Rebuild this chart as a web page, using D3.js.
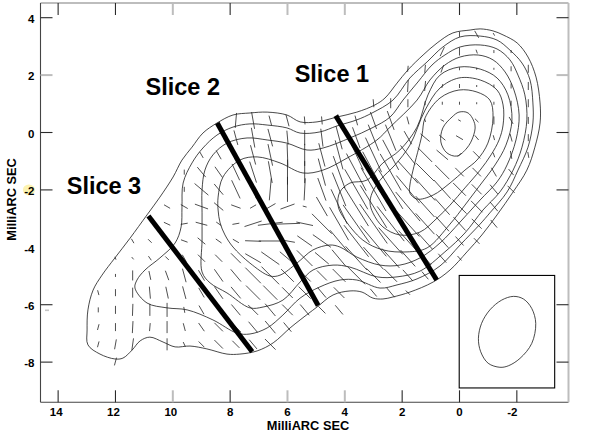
<!DOCTYPE html>
<html>
<head>
<meta charset="utf-8">
<script src="https://cdn.jsdelivr.net/npm/d3@7/dist/d3.min.js"></script>
<style>
html,body{margin:0;padding:0;background:#fff;}
svg{display:block;}
text{font-family:"Liberation Sans",Arial,Helvetica,sans-serif;font-weight:bold;fill:#000;}
</style>
</head>
<body>
<svg id="chart" width="601" height="431"></svg>
<script>
// ---- Axes (milliarcseconds) ----
const xDomain = [14.615, -3.802];
const yDomain = [4.512, -9.4];
const xTicks = [14, 12, 10, 8, 6, 4, 2, 0, -2];
const yTicks = [4, 2, 0, -2, -4, -6, -8];
const xGreyTicks = [10, 6, 4];
const yGreyTicks = [2];
const yHiddenTicks = [-4];
const xTitle = "MilliARC SEC";
const yTitle = "MilliARC SEC";

// ---- Contours: [RA offset, Dec offset] ----
const contour1 = [[12.02,-7.89],[11.74,-7.86],[11.42,-7.58],[11.14,-7.26],[10.80,-7.13],[10.34,-7.30],[9.92,-7.47],[9.40,-7.44],[8.81,-7.54],[8.11,-7.72],[7.66,-7.72],[7.06,-7.61],[6.50,-7.33],[5.91,-6.81],[5.56,-6.53],[4.97,-6.08],[4.41,-5.66],[3.82,-5.52],[3.40,-5.56],[3.02,-5.77],[2.67,-5.80],[2.32,-5.73],[1.73,-5.56],[0.92,-5.21],[0.33,-4.79],[-0.26,-4.16],[-0.78,-3.57],[-1.31,-2.87],[-1.87,-2.07],[-2.35,-1.31],[-2.63,-0.51],[-2.81,0.33],[-2.81,1.03],[-2.67,1.93],[-2.39,2.63],[-2.01,3.12],[-1.52,3.40],[-1.17,3.54],[-0.72,3.61],[-0.37,3.57],[0.23,3.47],[0.78,3.12],[1.27,2.70],[1.80,2.18],[2.18,1.72],[2.60,1.20],[2.95,0.96],[3.58,0.71],[4.27,0.54],[4.97,0.37],[5.56,0.37],[6.02,0.61],[6.71,0.71],[7.31,0.68],[7.90,0.61],[8.46,0.33],[8.95,-0.02],[9.33,-0.51],[9.68,-0.96],[9.99,-1.55],[10.45,-2.25],[10.90,-2.87],[11.49,-3.68],[12.02,-4.37],[12.47,-4.97],[12.78,-5.49],[12.96,-6.18],[12.99,-6.88],[12.96,-7.40],[12.54,-7.72]];
const contour2 = [[11.32,-5.42],[11.25,-5.14],[10.97,-4.79],[10.45,-4.37],[9.92,-3.85],[9.71,-3.29],[9.68,-2.60],[9.64,-1.76],[9.33,-1.06],[8.95,-0.54],[8.46,-0.09],[7.90,0.19],[7.31,0.30],[6.71,0.26],[6.02,0.16],[5.56,-0.02],[4.87,0.02],[4.27,0.23],[3.58,0.44],[3.05,0.68],[2.32,1.13],[1.73,1.90],[1.13,2.46],[0.58,2.98],[-0.02,3.33],[-0.72,3.36],[-1.31,3.22],[-1.76,2.87],[-2.18,2.42],[-2.46,1.83],[-2.56,1.03],[-2.56,0.33],[-2.39,-0.51],[-2.04,-1.31],[-1.66,-2.07],[-1.06,-2.80],[-0.72,-3.19],[-0.02,-3.92],[0.68,-4.65],[1.48,-5.10],[2.18,-5.31],[2.77,-5.42],[3.58,-5.14],[4.17,-5.14],[4.87,-5.38],[5.56,-5.77],[6.16,-6.36],[6.71,-6.81],[7.31,-7.02],[7.76,-6.99],[8.60,-6.53],[9.50,-6.18],[10.20,-6.11],[10.90,-5.94]];
const contour3 = [[8.98,-4.86],[8.98,-3.75],[8.98,-2.80],[8.98,-2.00],[8.88,-1.31],[8.60,-0.78],[8.11,-0.37],[7.41,-0.19],[6.71,-0.26],[6.02,-0.37],[5.32,-0.61],[4.76,-0.54],[3.82,-0.19],[3.05,0.16],[2.42,0.54],[1.97,1.13],[1.45,1.76],[0.96,2.35],[0.51,2.70],[-0.02,2.98],[-0.72,3.05],[-1.31,2.91],[-1.76,2.53],[-2.04,2.00],[-2.28,1.31],[-2.35,0.44],[-2.18,-0.51],[-1.87,-1.31],[-1.41,-2.07],[-0.82,-2.70],[-0.19,-3.50],[0.51,-4.16],[1.38,-4.83],[2.18,-5.03],[2.88,-5.03],[3.82,-4.69],[4.41,-4.62],[5.11,-4.79],[5.56,-5.21],[6.16,-5.84],[6.85,-6.08],[7.31,-6.11],[8.11,-5.59],[8.70,-5.24]];
const contour4 = [[8.42,-2.25],[8.25,-1.55],[7.66,-0.96],[7.06,-0.85],[6.26,-1.06],[5.46,-1.41],[4.76,-1.31],[3.92,-0.89],[2.88,-0.26],[2.42,0.19],[1.48,1.13],[1.03,1.83],[0.51,2.35],[-0.02,2.63],[-0.65,2.70],[-1.17,2.53],[-1.59,2.11],[-1.90,1.48],[-2.08,0.61],[-1.97,-0.26],[-1.66,-1.13],[-1.31,-1.72],[-0.72,-2.35],[-0.02,-3.12],[0.68,-3.85],[1.38,-4.37],[2.08,-4.62],[2.77,-4.62],[3.58,-4.34],[4.17,-3.99],[4.52,-3.92],[5.11,-4.09],[5.67,-4.55],[6.26,-4.97],[6.61,-5.00],[7.31,-4.55],[7.90,-3.99],[8.18,-3.57],[8.35,-3.15],[8.42,-2.70]];
const contour5 = [[4.24,-2.53],[4.06,-2.94],[3.37,-3.75],[2.67,-4.09],[1.83,-4.16],[1.13,-4.02],[0.33,-3.19],[-0.19,-2.53],[-0.72,-1.83],[-1.24,-1.13],[-1.62,-0.44],[-1.83,0.44],[-1.69,1.31],[-1.31,1.90],[-0.72,2.21],[0.02,2.28],[0.68,2.00],[1.10,1.31],[1.48,0.19],[2.08,-0.61],[2.67,-1.06],[3.23,-1.66],[3.82,-1.76],[4.17,-2.07]];
const contour6 = [[3.12,-2.46],[3.02,-2.80],[2.67,-3.29],[2.08,-3.57],[1.38,-3.47],[0.78,-2.98],[0.33,-2.53],[-0.19,-1.93],[-0.72,-1.31],[-1.10,-0.78],[-1.38,-0.26],[-1.52,0.26],[-1.52,0.96],[-1.31,1.48],[-0.72,1.83],[0.02,1.90],[0.68,1.55],[1.20,0.78],[1.73,-0.44],[2.25,-1.13],[2.77,-1.66],[3.05,-2.11]];
const contour7 = [[1.73,-2.11],[1.48,-2.32],[0.92,-2.18],[0.33,-1.76],[-0.19,-1.31],[-0.61,-0.96],[-0.99,-0.37],[-1.17,0.54],[-1.06,1.13],[-0.61,1.41],[0.02,1.48],[0.68,1.20],[1.20,0.51],[1.31,-0.09],[1.62,-1.31],[1.73,-1.83]];
const contour8 = [[0.02,0.71],[-0.30,0.68],[-0.54,0.26],[-0.47,-0.16],[-0.26,-0.54],[0.09,-0.82],[0.44,-0.71],[0.65,-0.33],[0.58,0.16],[0.26,0.54]];
const contours = [contour1, contour2, contour3, contour4, contour5, contour6, contour7, contour8];

// ---- Restoring beam inset ----
const beamBox = [[0.01, -4.98], [-3.32, -8.9]];
const beamContour = [[-1.88,-5.71],[-2.23,-5.80],[-2.52,-6.13],[-2.66,-6.65],[-2.52,-7.35],[-2.11,-7.87],[-1.70,-8.13],[-1.41,-8.18],[-1.00,-8.04],[-0.74,-7.64],[-0.66,-7.17],[-0.77,-6.65],[-1.06,-6.18],[-1.47,-5.84]];

// ---- Slices ----
const sliceNames = ["Slice 1", "Slice 2", "Slice 3"];
const sliceStart = [[4.32, 0.585], [8.45, 0.33], [10.85, -2.91]];
const sliceEnd = [[0.796, -5.14], [4.93, -6.03], [7.23, -7.64]];
const sliceLabelAt = [[5.75, 1.76], [10.95, 1.31], [13.7, -2.14]];

// ---- Polarisation vectors on a regular grid ----
const vectorColumnX = [12.6,12,11.4,10.8,10.2,9.6,9,8.4,7.8,7.2,6.6,6,5.4,4.8,4.2,3.6,3,2.4,1.8,1.2,0.6,0,-0.6,-1.2,-1.8,-2.4];
const vectorRowY = [3.42,2.82,2.22,1.62,1.02,0.42,-0.18,-0.78,-1.38,-1.98,-2.58,-3.18,-3.78,-4.38,-4.98,-5.58,-6.18,-6.78,-7.38,-7.98];
const vectorFirstRow = [15,13,12,12,10,8,7,7,5,5,5,5,5,5,5,5,4,4,2,2,1,0,0,0,1,2];
const vectorLengths = [
 [5,5,6,6],
 [3,3,7,8,8,10,8],
 [5,3,10,10,12,12,12],
 [5,5,9,12,12,8],
 [7,7,5,5,10,12,14,12,12],
 [5,5,8,7,7,8,14,13,6,8,5],
 [7,13,18,14,12,10,10,12,11,10,10,8],
 [10,13,14,12,6,7,10,15,15,12,12,12],
 [15,15,17,18,20,10,7,7,14,16,15,14,14,10],
 [17,20,20,22,20,7,18,16,18,22,20,14,14,12],
 [10,18,22,22,22,12,25,23,22,25,20,16,16,15],
 [12,14,22,25,25,15,25,15,20,18,15,15,12],
 [8,15,22,22,22,4,17,18,22,17,17,14],
 [8,18,24,28,24,22,28,22,18,14,13,10],
 [12,24,30,34,36,38,38,28,22,18,15,12],
 [10,22,34,42,46,46,46,40,32,25],
 [8,18,28,38,46,50,50,48,40,30,20,10],
 [10,20,28,34,42,46,46,44,36,26,18,12],
 [6,12,8,8,15,24,30,36,38,34,28,22,15,6],
 [8,10,4,3,12,20,25,30,28,28,22,18,10],
 [10,8,4,3,4,8,15,20,25,22,20,18,12],
 [5,8,3,4,3,3,8,5,12,18,20,18,12,6],
 [8,4,2,2,2,5,6,10,12,14,16,14,8],
 [3,3,2,3,3,8,5,5,10,12,12,10],
 [3,5,5,5,8,8,8,8,10],
 [8,8,8,7,7,6]
];
const vectorAngles = [
 [15,0,-15,-15],
 [20,0,0,0,0,-10,-15],
 [30,40,0,0,-2,-3,-8],
 [45,35,12,5,0,-5],
 [60,65,50,45,20,12,0,0,0],
 [0,0,60,-80,70,30,15,15,10,15,25],
 [30,40,50,70,75,50,45,30,30,30,35,45],
 [30,35,40,50,55,55,45,35,35,35,45,45],
 [-5,15,25,25,25,70,-80,60,45,40,40,40,45,45],
 [10,10,15,18,20,-60,-72,88,60,45,45,45,40,40],
 [15,15,12,10,-5,-60,-83,90,55,45,45,40,40,45],
 [15,5,2,0,0,-70,-88,80,50,45,45,45,40],
 [5,0,0,0,-3,75,78,55,45,45,45,40],
 [5,7,15,15,20,30,45,55,50,45,40,45],
 [10,15,15,20,22,25,30,40,40,45,45,40],
 [15,20,25,28,30,32,35,38,42,45],
 [5,20,22,25,28,30,32,35,40,42,45,40],
 [0,20,22,28,30,32,35,38,42,42,45,40],
 [-5,-3,0,15,30,38,42,40,40,42,42,42,42,45],
 [-5,-5,0,20,50,45,45,42,42,42,42,42,40],
 [-25,-20,-15,0,60,50,50,45,42,42,42,42,42],
 [0,0,0,0,0,60,60,-45,45,45,45,42,42,42],
 [30,20,0,0,0,45,40,45,45,45,45,45,45],
 [30,0,0,0,0,0,15,20,30,40,40,40],
 [0,0,0,0,30,15,10,40,45],
 [0,0,0,0,0,10]
];
const vectorUnit = 0.0349; // milliarcsec of drawn length per unit of polarised signal

// ---- Scales ----
const x = d3.scaleLinear().domain(xDomain).range([40.5, 568.5]);
const y = d3.scaleLinear().domain(yDomain).range([3, 402.3]);
const svg = d3.select("#chart");
const ink = "#1a1a1a";

// ---- Contours ----
const line = d3.line().x(d => x(d[0])).y(d => y(d[1])).curve(d3.curveCatmullRomClosed.alpha(0.5));
svg.append("g").selectAll("path").data(contours).join("path")
  .attr("d", line).attr("fill", "none").attr("stroke", ink).attr("stroke-width", 0.8);

// ---- Vectors ----
const vectors = [];
vectorLengths.forEach((lens, c) => lens.forEach((len, i) => {
  const a = vectorAngles[c][i] * Math.PI / 180;
  const half = len * vectorUnit / 2;
  vectors.push({x0: vectorColumnX[c] + half * Math.sin(a), y0: vectorRowY[vectorFirstRow[c] + i] + half * Math.cos(a),
                x1: vectorColumnX[c] - half * Math.sin(a), y1: vectorRowY[vectorFirstRow[c] + i] - half * Math.cos(a)});
}));
svg.append("g").selectAll("line").data(vectors).join("line")
  .attr("x1", d => x(d.x0)).attr("y1", d => y(d.y0))
  .attr("x2", d => x(d.x1)).attr("y2", d => y(d.y1))
  .attr("stroke", "#222").attr("stroke-width", 0.8);

// ---- Slices ----
svg.append("g").selectAll("line").data(sliceNames).join("line")
  .attr("x1", (d, i) => x(sliceStart[i][0])).attr("y1", (d, i) => y(sliceStart[i][1]))
  .attr("x2", (d, i) => x(sliceEnd[i][0])).attr("y2", (d, i) => y(sliceEnd[i][1]))
  .attr("stroke", "#000").attr("stroke-width", 5);
svg.append("g").selectAll("text").data(sliceNames).join("text")
  .attr("x", (d, i) => x(sliceLabelAt[i][0])).attr("y", (d, i) => y(sliceLabelAt[i][1]))
  .attr("font-size", 23.5).text(d => d);

// ---- Beam inset ----
svg.append("rect")
  .attr("x", x(beamBox[0][0])).attr("y", y(beamBox[0][1]))
  .attr("width", x(beamBox[1][0]) - x(beamBox[0][0])).attr("height", y(beamBox[1][1]) - y(beamBox[0][1]))
  .attr("fill", "none").attr("stroke", "#000").attr("stroke-width", 1.1);
svg.append("path").attr("d", line(beamContour)).attr("fill", "none").attr("stroke", ink).attr("stroke-width", 0.8);

// ---- Small artefacts of the scanned plot ----
svg.append("ellipse").attr("cx", x(15.02)).attr("cy", y(-2)).attr("rx", 6).attr("ry", 5.5).attr("fill", "#fdf3b0");
svg.append("rect").attr("x", 45).attr("y", 309.5).attr("width", 4).attr("height", 1.6).attr("fill", "#c4c4c4");

// ---- Axes ----
function styleAxis(g, values, grey, hidden, edgeColour, edgeWidth) {
  g.select(".domain").attr("stroke", edgeColour).attr("stroke-width", edgeWidth);
  g.selectAll(".tick line").each(function(v) {
    const s = d3.select(this);
    if (hidden.includes(v)) { s.remove(); return; }
    const isGrey = grey.includes(v);
    s.attr("stroke", isGrey ? "#bdbdbd" : "#2a2a2a").attr("stroke-width", isGrey ? 2 : 1.1);
  });
}
const fmt = d => String(d);
const axisB = d3.axisBottom(x).tickValues(xTicks).tickFormat(fmt).tickSizeInner(-12).tickSizeOuter(0).tickPadding(6).offset(0);
const axisT = d3.axisTop(x).tickValues(xTicks).tickFormat("").tickSizeInner(-12).tickSizeOuter(0).offset(0);
const axisL = d3.axisLeft(y).tickValues(yTicks).tickFormat(fmt).tickSizeInner(-12).tickSizeOuter(0).tickPadding(6).offset(0);
const axisR = d3.axisRight(y).tickValues(yTicks).tickFormat("").tickSizeInner(-12).tickSizeOuter(0).offset(0);

const gB = svg.append("g").attr("transform", `translate(0,${y.range()[1]})`).call(axisB);
const gT = svg.append("g").attr("transform", `translate(0,${y.range()[0]})`).call(axisT);
const gL = svg.append("g").attr("transform", `translate(${x.range()[0]},0)`).call(axisL);
const gR = svg.append("g").attr("transform", `translate(${x.range()[1]},0)`).call(axisR);
styleAxis(gB, xTicks, xGreyTicks, [], "#444", 1.1);
styleAxis(gT, xTicks, xGreyTicks, [], "#bdbdbd", 2);
styleAxis(gL, yTicks, yGreyTicks, yHiddenTicks, "#444", 1.1);
styleAxis(gR, yTicks, yGreyTicks, yHiddenTicks, "#bdbdbd", 2);
gT.selectAll("text").remove();
gR.selectAll("text").remove();
gB.selectAll("text").attr("font-size", 11.5)
  .attr("dx", d => d < 0 ? -4.5 : (String(d).length > 1 ? -2 : 0));
gL.selectAll("text").attr("font-size", 11.5).attr("dy", "0.46em");
svg.selectAll("g").attr("font-family", null);

svg.append("text").attr("x", 308).attr("y", 429.5).attr("text-anchor", "middle").attr("font-size", 12.8).text(xTitle);
svg.append("text").attr("transform", "translate(15.5,199.5) rotate(-90)").attr("text-anchor", "middle").attr("font-size", 12.8).text(yTitle);
</script>
</body>
</html>
